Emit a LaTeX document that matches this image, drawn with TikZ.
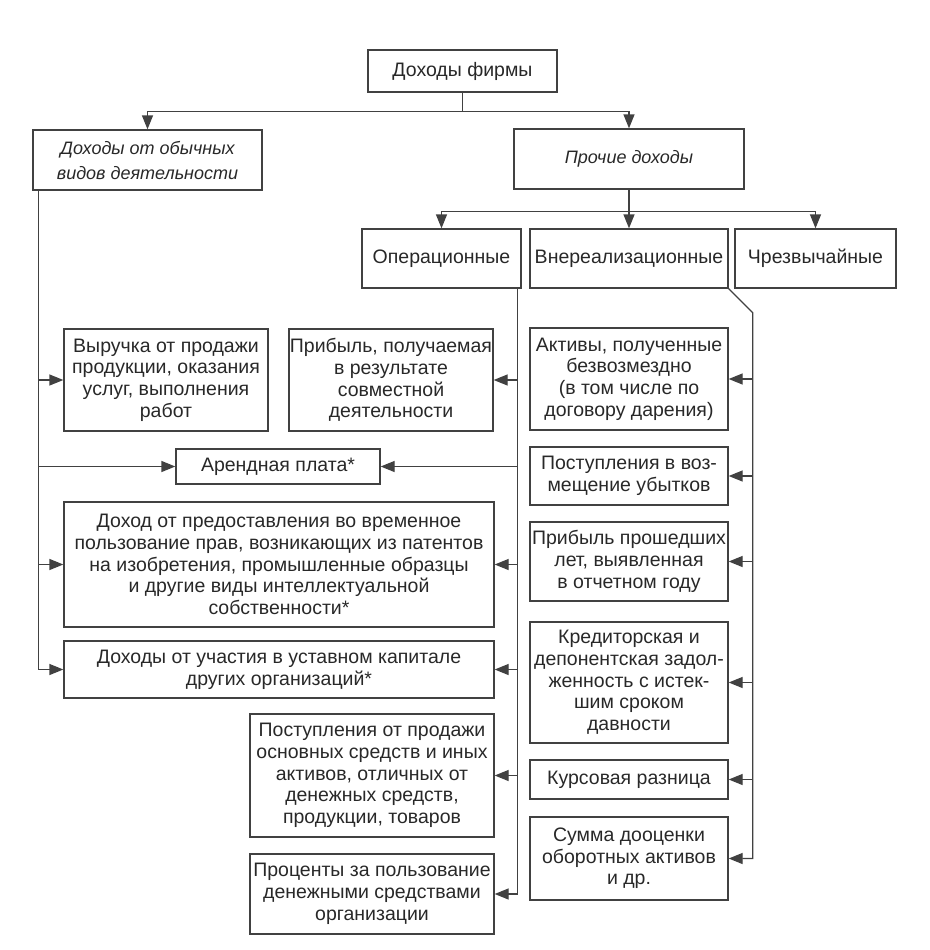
\documentclass[tikz,border=0pt]{standalone}
\usepackage{fontspec}
\setmainfont{Liberation Sans}
\usetikzlibrary{arrows.meta}
\definecolor{ink}{RGB}{65,65,65}
\definecolor{txt}{RGB}{40,40,40}
\newcommand\bxx[7][]{\node[box,#1,minimum width={(#5-#3)*1pt},minimum height={(#6-#4)*1pt}] (#2) at ({(#3+#5)/2},{-(#4+#6)/2}) {#7};}
\begin{document}
\begin{tikzpicture}[x=1pt,y=1pt,
  box/.style={draw=ink,line width=1.3pt,inner sep=0pt,align=center,text=txt,font=\fontsize{19.5}{21.7}\selectfont},
  ibox/.style={font=\fontsize{18}{25}\selectfont\itshape},
  line/.style={draw=ink,line width=1.3pt},
  arr/.style={line,-{Triangle[length=14pt,width=11pt]}}]
\useasboundingbox (0,0) rectangle (929,-950);
% level 1-2
\bxx{top}{368}{50}{557}{92}{Доходы фирмы}
\bxx[ibox]{ord}{33}{130}{262}{190}{Доходы от обычных\\видов деятельности}
\bxx[ibox]{oth}{514}{129}{744}{189}{Прочие доходы}
% level 3
\bxx{op}{362}{229}{521}{288}{Операционные}
\bxx{nr}{530}{229}{728}{288}{Внереализационные}
\bxx{ex}{735}{229}{896}{288}{Чрезвычайные}
% left / middle
\bxx{vyr}{64}{329}{268}{431}{Выручка от продажи\\продукции, оказания\\услуг, выполнения\\работ}
\bxx{prib}{289}{329}{493}{431}{Прибыль, получаемая\\в результате\\совместной\\деятельности}
\bxx{arend}{176}{449}{380}{484}{Арендная плата*}
\bxx{dohpr}{64}{502}{494}{627}{Доход от предоставления во временное\\пользование прав, возникающих из патентов\\на изобретения, промышленные образцы\\и другие виды интеллектуальной\\собственности*}
\bxx{uch}{64}{641}{494}{698}{Доходы от участия в уставном капитале\\других организаций*}
\bxx{postprod}{250}{714}{494}{837}{Поступления от продажи\\основных средств и иных\\активов, отличных от\\денежных средств,\\продукции, товаров}
\bxx{proc}{250}{854}{494}{934}{Проценты за пользование\\денежными средствами\\организации}
% right column
\bxx{akt}{530}{328}{728}{430}{Активы, полученные\\безвозмездно\\(в том числе по\\договору дарения)}
\bxx{vozm}{530}{447}{728}{505}{Поступления в воз-\\мещение убытков}
\bxx{proshl}{530}{522}{728}{601}{Прибыль прошедших\\лет, выявленная\\в отчетном году}
\bxx{kred}{530}{622}{728}{743}{Кредиторская и\\депонентская задол-\\женность с истек-\\шим сроком\\давности}
\bxx{kurs}{530}{760}{728}{799}{Курсовая разница}
\bxx{summ}{530}{817}{728}{900}{Сумма дооценки\\оборотных активов\\и др.}
% connectors top
\draw[line] (top.south) -- ++(0,-19) coordinate (j1);
\draw[arr] (j1) -| (ord.north);
\draw[arr] (j1) -| (oth.north);
\draw[line] (oth.south) -- ++(0,-22) coordinate (j2);
\draw[arr] (j2) -| (op.north);
\draw[arr] (j2) -- (nr.north);
\draw[arr] (j2) -| (ex.north);
% left trunk
\coordinate (lt) at ([xshift=6pt]ord.south west);
\draw[arr] (lt) |- (uch.west);
\foreach \b in {vyr,arend,dohpr} \draw[arr] (lt |- \b.west) -- (\b.west);
% operational trunk
\coordinate (ot) at ([xshift=-4pt]op.south east);
\draw[arr] (ot) |- (proc.east);
\foreach \b in {prib,arend,dohpr,uch,postprod} \draw[arr] (ot |- \b.east) -- (\b.east);
% non-operating trunk
\coordinate (nt) at ([shift={(24pt,-24pt)}]nr.south east);
\draw[arr] (nr.south east) -- (nt) |- (summ.east);
\foreach \b in {akt,vozm,proshl,kred,kurs} \draw[arr] (nt |- \b.east) -- (\b.east);
\end{tikzpicture}
\end{document}
